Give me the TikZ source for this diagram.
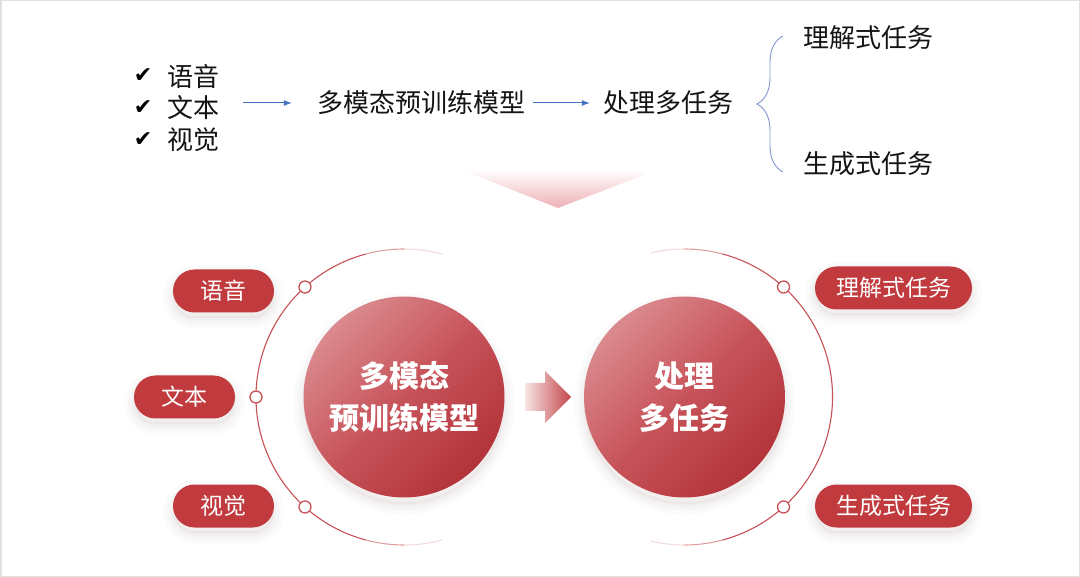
\documentclass[tikz,border=0pt]{standalone}
\usepackage{fontspec}
\setmainfont{Noto Sans CJK SC}
\newfontfamily\symfont{DejaVu Sans}
\usepackage{tikz}
\usetikzlibrary{arrows.meta}
\usetikzlibrary{decorations.pathreplacing}
\definecolor{pillred}{HTML}{C13B3E}
\definecolor{ballhi}{HTML}{DA8A8E}
\definecolor{ballmid}{HTML}{C7535A}
\definecolor{balllo}{HTML}{B3343A}
\definecolor{ringred}{HTML}{C75255}
\definecolor{arrred}{HTML}{C4474B}
\definecolor{tripink}{HTML}{EEB0B5}
\definecolor{arrblue}{HTML}{4472C4}
\definecolor{braceblue}{HTML}{8198CC}
\definecolor{shadowgray}{HTML}{8A7070}
\def\ringradius{148}
\tikzset{toptext/.style={inner sep=0pt, text=black!92, font=\fontsize{26}{26}\selectfont}}
\tikzset{check/.style={inner sep=0pt, font=\symfont\fontsize{22}{22}\selectfont}}
\tikzset{bluearrow/.style={draw=arrblue, line width=1pt, -{Latex[length=8pt,width=6pt]}}}
\tikzset{softshadow/.style={
    preaction={draw=shadowgray, fill=shadowgray, draw opacity=0.025, fill opacity=0.05, line width=20pt, transform canvas={yshift=-#1}},
    preaction={draw=shadowgray, draw opacity=0.035, line width=12pt, transform canvas={yshift=-#1}},
    preaction={draw=shadowgray, draw opacity=0.045, line width=5pt, transform canvas={yshift=-#1}}}}
\tikzset{pill/.style={fill=pillred, text=white, rounded corners=21.5pt, minimum height=43pt,
    inner sep=0pt, font=\fontsize{23}{23}\selectfont, softshadow=6pt}}
\tikzset{ball/.style={circle, minimum size=201pt, inner sep=0pt, softshadow=7pt, top color=ballhi, bottom color=balllo,
    middle color=ballmid, shading angle=45, text=white, align=center, font=\fontsize{30}{42}\selectfont\bfseries}}
\tikzset{ring/.style={draw=ringred, line width=1.1pt}}
\tikzset{ringdot/.style={circle, draw=ringred, fill=white, line width=1.3pt, minimum size=12pt, inner sep=0pt}}

\begin{document}
\begin{tikzpicture}[x=1pt, y=-1pt]

\useasboundingbox (0,0) rectangle (1080,577);
\draw[black!12, line width=1.5pt, fill=white] (0.75,0.75) rectangle (1079.25,576.25);

\node[check] (c1) at (143,76) {✔};
\node[check] (c2) at (143,108) {✔};
\node[check] (c3) at (143,140) {✔};
\node[toptext] (i1) at (193,77) {语音};
\node[toptext] (i2) at (193,108) {文本};
\node[toptext] (i3) at (193,140) {视觉};
\node[toptext] (m) at (421,103) {多模态预训练模型};
\node[toptext] (p) at (668,103) {处理多任务};
\node[toptext] (u) at (868,38) {理解式任务};
\node[toptext] (g) at (868,164) {生成式任务};
\coordinate (bt) at (783,36);
\coordinate (bb) at (783,172);

\draw[bluearrow, shorten <=24pt, shorten >=25pt] (i2.east |- m) -- (m);
\draw[bluearrow, shorten <=8pt, shorten >=13pt] (m) -- (p);
\draw[braceblue, line width=0.9pt, decorate, decoration={brace, amplitude=26pt}] (bb) -- (bt);

\shade[top color=white, bottom color=tripink] (462,170) -- (657,170) -- (558,208) -- cycle;

\node[ball] (l) at (404,397) {多模态\\预训练模型};
\node[ball] (r) at (684.5,397) {处理\\多任务};

\foreach \a/\b/\o in {105/255/1, 90/105/0.55, 255/270/0.55, 75/90/0.2, 270/285/0.2}
  \draw[ring, opacity=\o] (l.center) ++(\a:\ringradius) arc[start angle=\a, end angle=\b, radius=\ringradius];
\foreach \a/\b/\o in {-75/75/1, 75/90/0.55, -90/-75/0.55, 90/103/0.2, -103/-90/0.2}
  \draw[ring, opacity=\o] (r.center) ++(\a:\ringradius) arc[start angle=\a, end angle=\b, radius=\ringradius];

\path (l.center) ++(132:\ringradius) node[ringdot] (d1) {};
\path (l.center) ++(180:\ringradius) node[ringdot] (d2) {};
\path (l.center) ++(228:\ringradius) node[ringdot] (d3) {};
\path (r.center) ++(48:\ringradius) node[ringdot] (d4) {};
\path (r.center) ++(-48:\ringradius) node[ringdot] (d5) {};

\shade[left color=arrred!15, right color=arrred] (525,383) -- (545,383) -- (545,371) -- (571,397)
  -- (545,423) -- (545,411) -- (525,411) -- cycle;

\node[pill, minimum width=101pt] (s1) at (223.5,291) {语音};
\node[pill, minimum width=101pt] (s2) at (184.5,397) {文本};
\node[pill, minimum width=101pt] (s3) at (223.5,506) {视觉};
\node[pill, minimum width=157pt] (s4) at (893.5,288) {理解式任务};
\node[pill, minimum width=157pt] (s5) at (893.5,506) {生成式任务};

\end{tikzpicture}
\end{document}
